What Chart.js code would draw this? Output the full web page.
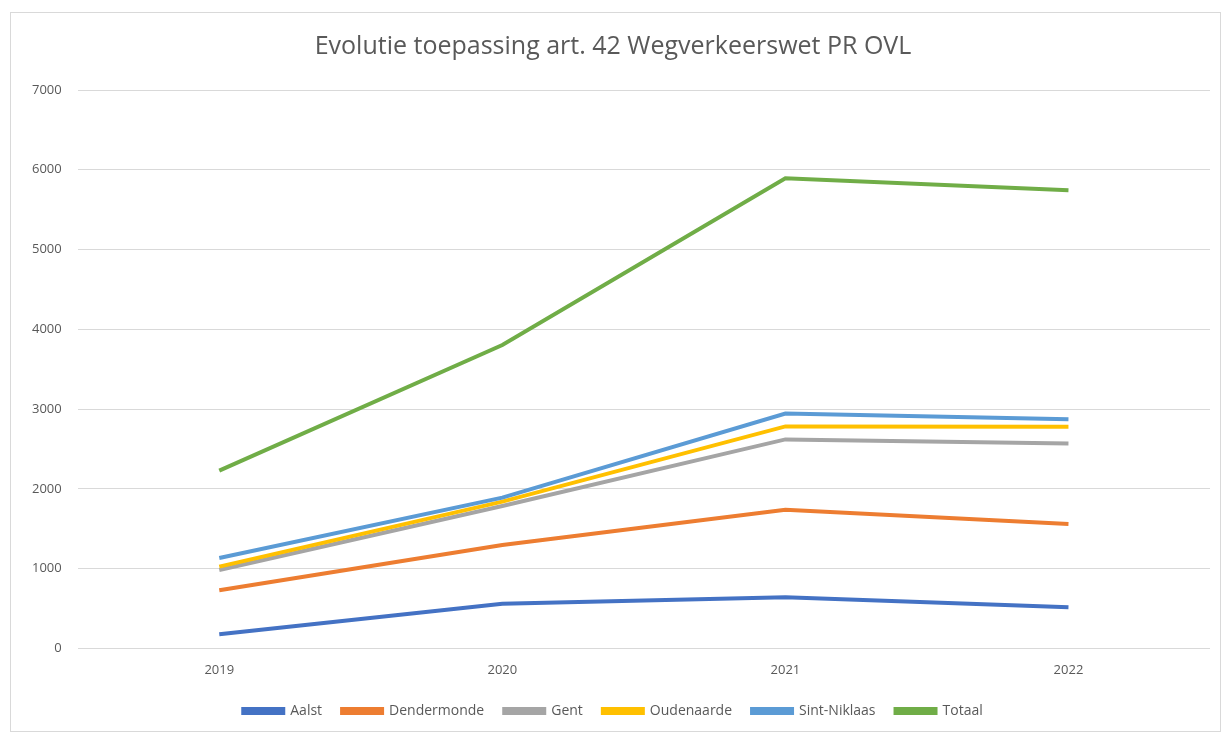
<!DOCTYPE html>
<html>
<head>
<meta charset="utf-8">
<script src="https://cdn.jsdelivr.net/npm/chart.js@4/dist/chart.umd.min.js"></script>
<style>
    html, body { margin: 0; padding: 0; background: #ffffff; }
    #wrap {
        position: absolute;
        left: 10px; top: 12px;
        width: 1211px; height: 720px;
        border: 1px solid #d9d9d9;
        box-sizing: border-box;
    }
    canvas { display: block; }
</style>
</head>
<body>
<div id="wrap"><canvas id="chart"></canvas></div>
<script>
// --- Data ---
const years = ['2019', '2020', '2021', '2022'];
const aalst = [176, 560, 640, 516];
const dendermonde = [730, 1297, 1738, 1560];
const gent = [982, 1785, 2620, 2570];
const oudenaarde = [1025, 1840, 2783, 2778];
const sintNiklaas = [1133, 1890, 2945, 2872];
const totaal = [2229, 3803, 5894, 5743];
const yTicks = [0, 1000, 2000, 3000, 4000, 5000, 6000, 7000];

const seriesNames = ['Aalst', 'Dendermonde', 'Gent', 'Oudenaarde', 'Sint-Niklaas', 'Totaal'];
const seriesValues = [aalst, dendermonde, gent, oudenaarde, sintNiklaas, totaal];
const seriesColors = ['#4472C4', '#ED7D31', '#A5A5A5', '#FFC000', '#5B9BD5', '#70AD47'];

const FONT = '"Open Sans", "Liberation Sans", sans-serif';
const TEXT = '#595959';

document.addEventListener('DOMContentLoaded', () => {
    const ctx = document.getElementById('chart').getContext('2d');

    new Chart(ctx, {
        type: 'line',
        data: {
            labels: years,
            datasets: seriesNames.map((name, i) => ({
                label: name,
                data: seriesValues[i],
                borderColor: seriesColors[i],
                backgroundColor: seriesColors[i],
                borderWidth: 4,
                pointRadius: 0,
                tension: 0,
                // later series are painted on top, like the reference
                order: seriesNames.length - i
            }))
        },
        options: {
            responsive: true,
            maintainAspectRatio: false,
            animation: false,
            layout: { padding: { left: 5, right: 10, top: 19, bottom: 3 } },
            scales: {
                x: {
                    offset: true,
                    grid: { display: false },
                    border: { display: false },
                    ticks: { color: TEXT, font: { family: FONT, size: 13 }, padding: 6 }
                },
                y: {
                    min: 0,
                    max: 7000,
                    afterBuildTicks: (axis) => { axis.ticks = yTicks.map(v => ({ value: v })); },
                    grid: { color: '#d9d9d9', lineWidth: 1, drawTicks: false },
                    border: { display: false },
                    ticks: {
                        color: TEXT,
                        font: { family: FONT, size: 13 },
                        padding: 16,
                        callback: (v) => String(v)
                    }
                }
            },
            plugins: {
                title: {
                    display: true,
                    text: 'Evolutie toepassing art. 42 Wegverkeerswet PR OVL',
                    color: TEXT,
                    font: { family: FONT, size: 25, weight: 'normal' },
                    padding: { top: 0, bottom: 28 }
                },
                legend: {
                    position: 'bottom',
                    labels: {
                        color: TEXT,
                        font: { family: FONT, size: 14 },
                        boxWidth: 40,
                        boxHeight: 4,
                        padding: 20,
                        sort: (a, b) => a.datasetIndex - b.datasetIndex
                    }
                },
                tooltip: { enabled: false }
            }
        }
    });
});
</script>
</body>
</html>
